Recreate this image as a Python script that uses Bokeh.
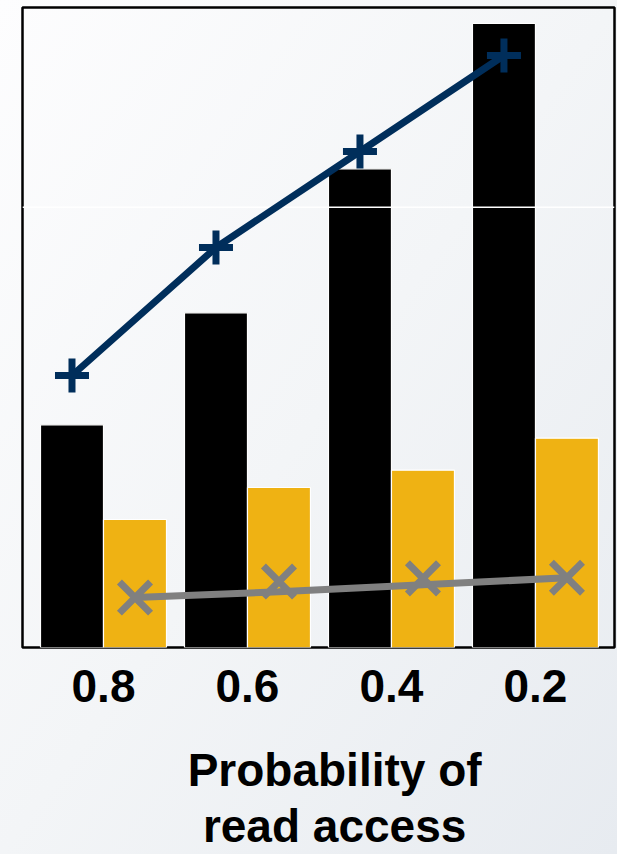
from bokeh.plotting import figure
from bokeh.models import Range1d, FixedTicker, Span
from bokeh.embed import file_html
from bokeh.resources import INLINE

categories = ["0.8", "0.6", "0.4", "0.2"]
black_bars = [34.8, 52.3, 74.8, 97.5]
gold_bars = [20.0, 25.0, 27.7, 32.7]
navy_line = [42.5, 62.5, 77.5, 92.5]
gray_markers = [7.8, 10.3, 10.8, 10.9]
gray_line = [7.8, 8.7, 9.8, 10.9]
grid_level = 68.8
x_label_lines = ["Probability of", "read access"]

xs = list(range(len(categories)))
bw = 0.4375

p = figure(width=617, height=854, output_backend="svg", toolbar_location=None,
           x_range=Range1d(-0.5625, 3.549), y_range=Range1d(0, 100),
           min_border_left=22, min_border_right=3, min_border_top=7, min_border_bottom=207)
p.styles = {"background-image": "linear-gradient(to bottom right, #fdfdfe 0%, #f3f5f7 50%, #e7ebf0 100%)"}
p.border_fill_color = None
p.background_fill_color = None
p.outline_line_color = "black"
p.outline_line_width = 2.5
p.grid.visible = False
p.yaxis.visible = False

p.vbar(x=[x - bw / 2 for x in xs], top=black_bars, width=bw, bottom=0,
       fill_color="black", line_color="white", line_width=1.2)
p.vbar(x=[x + bw / 2 for x in xs], top=gold_bars, width=bw, bottom=0,
       fill_color="#EFB213", line_color="white", line_width=1.2)

p.add_layout(Span(location=grid_level, dimension="width", line_color="white", line_width=1.5, level="glyph"))

nx = [x - bw / 2 for x in xs]
gx = [x + bw / 2 for x in xs]
p.line(nx, navy_line, line_color="#002E5B", line_width=7, level="overlay")
p.scatter(nx, navy_line, marker="cross", size=34, line_color="#002E5B", line_width=7, level="overlay")
p.line(gx, gray_line, line_color="#808080", line_width=7, level="overlay")
p.scatter(gx, gray_markers, marker="x", size=44, line_color="#808080", line_width=7, level="overlay")

ax = p.xaxis[0]
ax.ticker = FixedTicker(ticks=xs)
ax.major_label_overrides = {i: c for i, c in enumerate(categories)}
ax.major_label_text_font = "Liberation Sans"
ax.major_label_text_font_style = "bold"
ax.major_label_text_font_size = "46px"
ax.major_label_text_color = "black"
ax.major_label_standoff = 16
ax.axis_line_color = None
ax.major_tick_line_color = None
ax.minor_tick_line_color = None
ax.axis_label = "\n".join("\u2002\u2009" + s for s in x_label_lines)
ax.axis_label_text_font = "Liberation Sans"
ax.axis_label_text_font_style = "bold"
ax.axis_label_text_font_size = "46px"
ax.axis_label_text_color = "black"
ax.axis_label_standoff = 39
ax.axis_label_text_line_height = 1.08

open("out.html", "w").write(file_html(p, INLINE))
